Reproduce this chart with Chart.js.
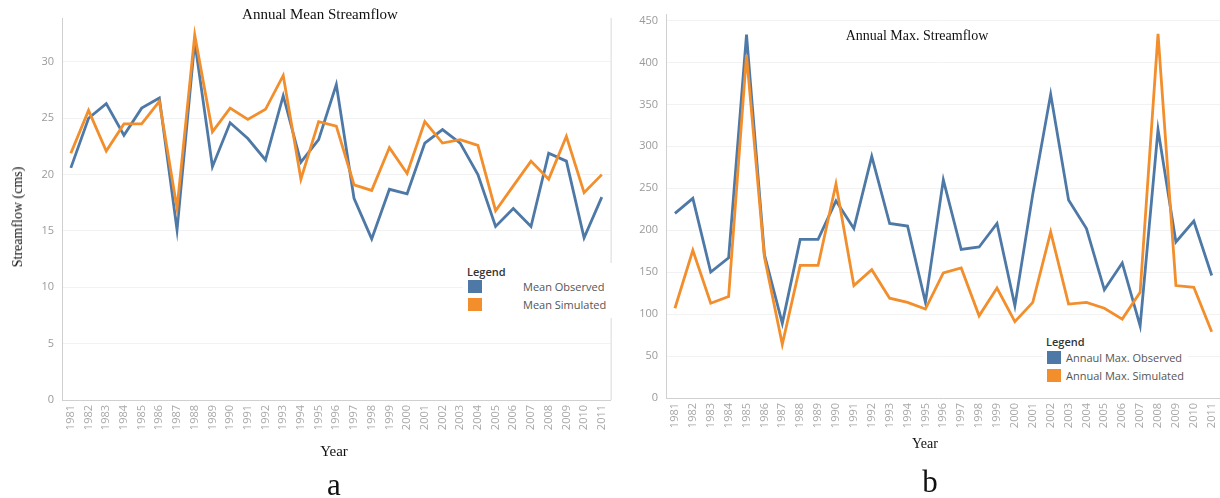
<!DOCTYPE html>
<html><head><meta charset="utf-8">
<script src="https://cdn.jsdelivr.net/npm/chart.js@4.4.0/dist/chart.umd.min.js"></script>
<style>
html,body{margin:0;padding:0;width:1220px;height:498px;overflow:hidden;background:#fff;}
.box{position:absolute;top:0;height:498px;}
.t{position:absolute;white-space:nowrap;transform:translate(-50%,-50%);font-family:"Liberation Serif","Times New Roman",serif;color:#111;line-height:1;font-weight:normal;}
.lb{position:absolute;background:#fff;}
.lt{position:absolute;white-space:nowrap;font-family:"Open Sans",sans-serif;font-size:11px;line-height:14px;color:#555;}
.lh{color:#333;font-weight:600;}
.sw{position:absolute;width:14px;height:13px;}
</style>
</head><body>
<div class="box" style="left:0;width:620px;"><canvas id="c1" width="620" height="498"></canvas></div>
<div class="box" style="left:620px;width:610px;"><canvas id="c2" width="610" height="498"></canvas></div>

<div class="t" style="left:320px;top:14px;font-size:15px;">Annual Mean Streamflow</div>
<div class="t" style="left:18px;top:217px;font-size:14px;transform:translate(-50%,-50%) rotate(-90deg);">Streamflow (cms)</div>
<div class="t" style="left:334px;top:451px;font-size:15px;">Year</div>
<div class="t" style="left:334px;top:484px;font-size:31px;">a</div>

<div class="t" style="left:917px;top:36px;font-size:14px;">Annual Max. Streamflow</div>
<div class="t" style="left:925px;top:444px;font-size:14px;">Year</div>
<div class="t" style="left:930px;top:481px;font-size:31px;">b</div>

<div class="lb" style="left:463px;top:263px;width:150px;height:55px;"></div>
<div class="lt lh" style="left:467px;top:265px;">Legend</div>
<div class="sw" style="left:468px;top:280px;background:#4e79a7;"></div>
<div class="sw" style="left:468px;top:298px;background:#f28e2b;"></div>
<div class="lt" style="left:523px;top:280px;">Mean Observed</div>
<div class="lt" style="left:523px;top:298px;">Mean Simulated</div>

<div class="lb" style="left:1043px;top:333px;width:145px;height:52px;"></div>
<div class="lt lh" style="left:1046px;top:335px;">Legend</div>
<div class="sw" style="left:1047px;top:351px;background:#4e79a7;"></div>
<div class="sw" style="left:1047px;top:369px;background:#f28e2b;"></div>
<div class="lt" style="left:1066px;top:351px;">Annaul Max. Observed</div>
<div class="lt" style="left:1066px;top:369px;">Annual Max. Simulated</div>

<script>
const years = [1981,1982,1983,1984,1985,1986,1987,1988,1989,1990,1991,1992,1993,1994,1995,1996,1997,1998,1999,2000,2001,2002,2003,2004,2005,2006,2007,2008,2009,2010,2011].map(String);

const meanObserved = [20.6,25.0,26.3,23.5,25.9,26.8,15.1,31.8,20.7,24.6,23.2,21.3,27.0,21.1,23.1,28.0,17.9,14.3,18.7,18.3,22.8,24.0,22.8,20.0,15.4,17.0,15.4,21.9,21.2,14.4,18.0];
const meanSimulated = [21.9,25.7,22.1,24.5,24.5,26.5,17.0,32.4,23.8,25.9,24.9,25.8,28.8,19.6,24.7,24.3,19.1,18.6,22.4,20.1,24.7,22.8,23.1,22.6,16.8,19.0,21.2,19.6,23.4,18.4,20.0];

const maxObserved = [220,238,150,167,433,171,89,189,189,235,202,288,208,205,114,260,177,180,208,110,243,362,236,202,129,161,86,320,186,211,146];
const maxSimulated = [107,176,113,121,409,168,64,158,158,255,134,153,119,114,106,149,155,98,131,91,114,198,112,114,107,94,126,434,134,132,79];

const meanTicks = [0,5,10,15,20,25,30];
const maxTicks = [0,50,100,150,200,250,300,350,400,450];

const BLUE = '#4e79a7', ORANGE = '#f28e2b';

const frame = {
  id:'frame',
  afterDraw(chart, args, opts){
    if(!opts.right) return;
    const {ctx, chartArea:a} = chart;
    ctx.save(); ctx.strokeStyle = '#d9d9d9'; ctx.lineWidth = 1;
    ctx.beginPath(); ctx.moveTo(a.right+0.5, a.top); ctx.lineTo(a.right+0.5, a.bottom); ctx.stroke();
    ctx.restore();
  }
};

function makeChart(id, labelA, dataA, labelB, dataB, maxV, tickVals, pad, yWidth, xHeight, rightFrame){
  return new Chart(document.getElementById(id), {
    type:'line',
    data:{labels:years, datasets:[
      {label:labelA, data:dataA, borderColor:BLUE, backgroundColor:BLUE, borderWidth:2.8, pointRadius:0, tension:0, order:2},
      {label:labelB, data:dataB, borderColor:ORANGE, backgroundColor:ORANGE, borderWidth:2.8, pointRadius:0, tension:0, order:1}
    ]},
    options:{
      responsive:false, animation:false,
      layout:{padding:pad},
      plugins:{legend:{display:false}, tooltip:{enabled:false}, title:{display:false}, frame:{right:rightFrame}},
      scales:{
        x:{
          offset:true,
          grid:{display:true, color:'rgba(0,0,0,0)', drawTicks:false},
          border:{display:true, color:'#d0d0d0', width:1},
          ticks:{minRotation:90, maxRotation:90, autoSkip:false, padding:5, color:'#a8a8a8', font:{family:'Open Sans', size:11}},
          afterFit:s=>{s.height = xHeight;}
        },
        y:{
          min:0, max:maxV,
          grid:{color:'#f2f2f2', drawTicks:false},
          border:{display:true, color:'#d0d0d0', width:1},
          ticks:{stepSize:tickVals[1]-tickVals[0], padding:8, color:'#9a9a9a', font:{family:'Open Sans', size:11}},
          afterBuildTicks:s=>{ s.ticks = tickVals.map(v=>({value:v})); },
          afterFit:s=>{s.width = yWidth;}
        }
      }
    },
    plugins:[frame]
  });
}

makeChart('c1','Mean Observed',meanObserved,'Mean Simulated',meanSimulated,33.9,meanTicks,{top:18,right:1,left:0,bottom:0},62,98,true);
makeChart('c2','Annaul Max. Observed',maxObserved,'Annual Max. Simulated',maxSimulated,457,maxTicks,{top:13,right:6,left:0,bottom:0},46,100,false);
</script>
</body></html>
